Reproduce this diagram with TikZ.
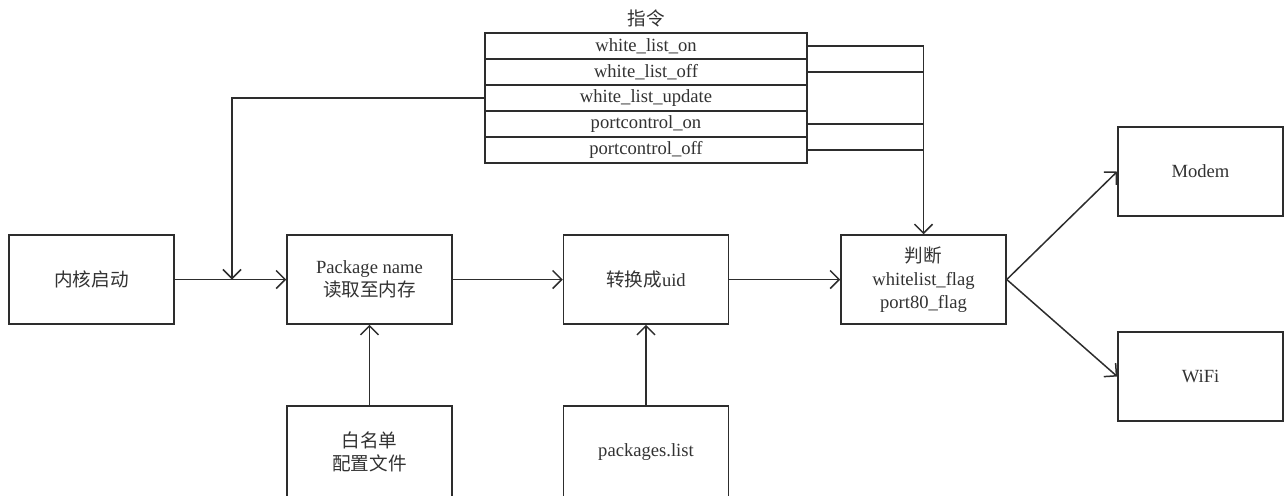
\documentclass[tikz,border=0pt]{standalone}
\usepackage{fontspec}
\setmainfont{Liberation Serif}
\newfontfamily\cjk{Noto Sans CJK SC}
\usetikzlibrary{arrows.meta}
\definecolor{ink}{RGB}{45,45,45}
\definecolor{txt}{RGB}{50,50,50}
\begin{document}
\begin{tikzpicture}[x=0.5pt,y=-0.5pt,
  line width=0.75pt, draw=ink,
  >={Straight Barb[length=4.5pt,width=9pt,line width=0.75pt]},
  every node/.style={text=txt, font=\fontsize{9.3pt}{11.5pt}\selectfont},
  box/.style={draw=ink, line width=0.75pt, minimum width=82.5pt, minimum height=44.5pt,
    inner sep=0pt, align=center},
  cmdrow/.style={draw=ink, line width=0.75pt, minimum width=161pt, minimum height=13pt,
    inner sep=0pt}]
\useasboundingbox (0,0) rectangle (1284,495);
\clip (0,0) rectangle (1284,495);

% main flow
\node[box] (kernel) at (91.5,279.5) {\cjk 内核启动};
\node[box] (pkg) at (369.5,279.5) {Package name\\{\cjk 读取至内存}};
\node[box] (uid) at (646,279.5) {{\cjk 转换成}uid};
\node[box] (judge) at (923.5,279.5) {{\cjk 判断}\\whitelist\_flag\\port80\_flag};
\node[box] (modem) at (1200.5,171.5) {Modem};
\node[box] (wifi) at (1200.5,376.5) {WiFi};

% configuration sources (running off the lower edge)
\node[box, minimum height=46pt] (wlfile) at (369.5,452) {{\cjk 白名单}\\{\cjk 配置文件}};
\node[box, minimum height=46pt] (plist) at (646,452) {packages.list};

% command list
\node (title) at (646,18) {\cjk 指令};
\node[cmdrow] (r1) at (646,46) {white\_list\_on};
\node[cmdrow] (r2) at (646,72) {white\_list\_off};
\node[cmdrow] (r3) at (646,98) {white\_list\_update};
\node[cmdrow] (r4) at (646,124) {portcontrol\_on};
\node[cmdrow] (r5) at (646,150) {portcontrol\_off};

\coordinate (join) at (232,279.5);

% connectors
\draw[->] (kernel) -- (pkg);
\draw[->] (pkg) -- (uid);
\draw[->] (uid) -- (judge);
\draw[->] (judge.east) -- (modem.west);
\draw[->] (judge.east) -- (wifi.west);
\draw[->] (wlfile) -- (pkg);
\draw[->] (plist) -- (uid);
\draw[->] (r3.west) -| (join);
\draw[->] (r1.east) -| (judge.north);
\draw (r2.east) -- (r2.east -| judge.north);
\draw (r4.east) -- (r4.east -| judge.north);
\draw (r5.east) -- (r5.east -| judge.north);
\end{tikzpicture}
\end{document}
